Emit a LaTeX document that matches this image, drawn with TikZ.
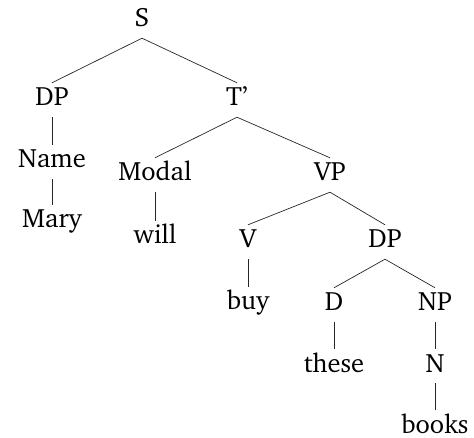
\documentclass[tikz,border=0pt]{standalone}
\usepackage[T1]{fontenc}
\usepackage{charter}
\begin{document}
\begin{tikzpicture}[x=1pt,y=-1pt,
  lab/.style={anchor=base,font=\fontsize{26.5}{30}\selectfont,text height=18pt,text depth=6pt,inner ysep=5pt,inner xsep=0pt},
  edge/.style={draw=black!85,line width=0.7pt}]
\useasboundingbox (0,0) rectangle (474,438);
\node[lab] (S) at (142,27) {S};
\node[lab] (DP) at (52,106) {DP};
\node[lab] (T) at (237,106) {T'};
\node[lab] (Name) at (52,168) {Name};
\node[lab] (Mary) at (52,228) {Mary};
\node[lab] (Modal) at (155,181) {Modal};
\node[lab] (will) at (155,244) {will};
\node[lab] (VP) at (330,181) {VP};
\node[lab] (V) at (248,248) {V};
\node[lab] (DPb) at (385,248) {DP};
\node[lab] (buy) at (248,310) {buy};
\node[lab] (D) at (334,311) {D};
\node[lab] (NP) at (435,311) {NP};
\node[lab] (these) at (334,372) {these};
\node[lab] (N) at (435,372) {N};
\node[lab] (books) at (435,433) {books};
\draw[edge] (S.south) -- (DP.north);
\draw[edge] (S.south) -- (T.north);
\draw[edge] (DP.south) -- (Name.north);
\draw[edge] (Name.south) -- (Mary.north);
\draw[edge] (T.south) -- (Modal.north);
\draw[edge] (T.south) -- (VP.north);
\draw[edge] (Modal.south) -- (will.north);
\draw[edge] (VP.south) -- (V.north);
\draw[edge] (VP.south) -- (DPb.north);
\draw[edge] (V.south) -- (buy.north);
\draw[edge] (DPb.south) -- (D.north);
\draw[edge] (DPb.south) -- (NP.north);
\draw[edge] (D.south) -- (these.north);
\draw[edge] (NP.south) -- (N.north);
\draw[edge] (N.south) -- (books.north);
\end{tikzpicture}
\end{document}
